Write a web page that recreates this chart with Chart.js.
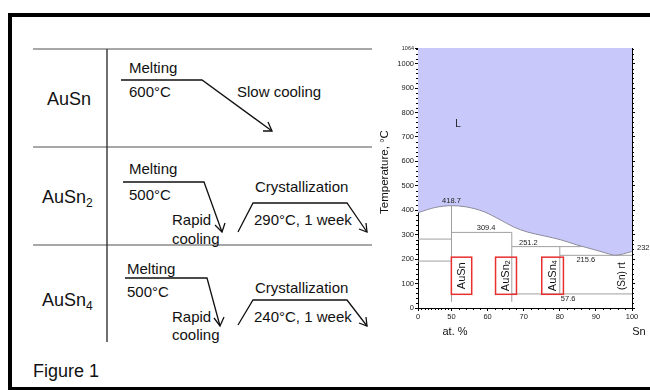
<!DOCTYPE html>
<html>
<head>
<meta charset="utf-8">
<script src="https://cdn.jsdelivr.net/npm/chart.js@4.4.0/dist/chart.umd.min.js"></script>
<style>
  html, body { margin: 0; padding: 0; background: #fff; }
  body { width: 650px; height: 390px; position: relative; overflow: hidden; font-family: "Liberation Sans", Arial, sans-serif; }
  #frame { position: absolute; left: 8px; top: 13px; width: 700px; height: 370px; border-left: 4px solid #000; border-top: 4px solid #000; border-bottom: 3px solid #000; }
  #scheme { position: absolute; left: 0; top: 0; }
  #wrap { position: absolute; left: 370px; top: 38px; width: 280px; height: 312px; }
</style>
</head>
<body>
<div id="frame"></div>

<svg id="scheme" width="650" height="390" font-family="Liberation Sans, Arial, sans-serif">
  <g stroke="#8a8a8a" stroke-width="1.4">
    <line x1="33" y1="49" x2="372" y2="49"/>
    <line x1="33" y1="147" x2="372" y2="147"/>
    <line x1="33" y1="245" x2="372" y2="245"/>
  </g>
  <line x1="107" y1="49" x2="107" y2="342" stroke="#333" stroke-width="1.4"/>

  <g fill="none" stroke="#111" stroke-width="1.3">
    <!-- AuSn -->
    <polyline points="121,80 202,80 272,131"/>
    <polyline points="263,131 272,131 268,122"/>
    <!-- AuSn2 -->
    <polyline points="123,182 204,182 222,232"/>
    <polyline points="215,225 222,232 225,223"/>
    <polyline points="238,232 253,203 347,203 367,232"/>
    <polyline points="359,229 367,232 366,223"/>
    <!-- AuSn4 -->
    <polyline points="125,278 207,278 220,326"/>
    <polyline points="214,318 220,326 224,317"/>
    <polyline points="238,325 253,300 347,300 367,326"/>
    <polyline points="359,323 367,326 366,317"/>
  </g>

  <g fill="#111" font-size="18">
    <text x="47" y="105">AuSn</text>
    <text x="42" y="203">AuSn<tspan font-size="12" dy="4">2</tspan></text>
    <text x="42" y="306">AuSn<tspan font-size="12" dy="4">4</tspan></text>
  </g>
  <g fill="#111" font-size="15">
    <text x="129" y="73">Melting</text>
    <text x="129" y="97">600°C</text>
    <text x="237" y="97">Slow cooling</text>

    <text x="129" y="174">Melting</text>
    <text x="129" y="200">500°C</text>
    <text x="172" y="225">Rapid</text>
    <text x="172" y="244">cooling</text>
    <text x="255" y="192">Crystallization</text>
    <text x="254" y="225">290°C, 1 week</text>

    <text x="127" y="274">Melting</text>
    <text x="127" y="297">500°C</text>
    <text x="172" y="322">Rapid</text>
    <text x="172" y="340">cooling</text>
    <text x="255" y="293">Crystallization</text>
    <text x="254" y="322">240°C, 1 week</text>
  </g>
  <text x="33" y="377" font-size="18" fill="#111">Figure 1</text>
</svg>

<div id="wrap"><canvas id="phase"></canvas></div>

<script>
// Au-Sn phase diagram data (at.% Sn, temperature in °C)
const xTickLabels = [0, 50, 60, 70, 80, 90, 100];
const yTickLabels = [0, 100, 200, 300, 400, 500, 600, 700, 800, 900, 1000, 1064];

const liquidusAt = [0, 25, 50, 54, 59, 63.5, 67.3, 71, 75.7, 80.3, 85, 89.7, 93, 95.3, 100];
const liquidusT  = [390, 411, 418.7, 414, 394, 361, 331, 311, 295, 279, 257, 238, 224, 216, 231];

// horizontal invariant lines: [from at.%, to at.%, T]
const isotherms = [[0, 50, 282], [0, 50, 192], [50, 66.7, 309.4], [66.7, 86, 251.2], [80, 100, 215.6], [66.7, 100, 57.6]];
// vertical phase lines: [at.%, T low, T high]
const phaseLines = [[50, 25, 418.7], [66.7, 25, 309.4], [80, 57.6, 251.2]];

const tempLabels = ['418.7', '309.4', '251.2', '215.6', '57.6'];
const tempLabelAt = [49.9, 59.6, 71.3, 87.2, 82.3];
const tempLabelT = [437, 326, 268, 196, 39];

const compounds = ['AuSn', 'AuSn2', 'AuSn4'];
const compoundFrom = [49.8, 62.2, 75];
const compoundTo = [55.6, 68, 81];
const compoundT = [56, 208];

// the Au-rich side (0-50 at.%) is compressed on the axis
const U50 = 9.28;
function u(p) { return p <= 50 ? p * U50 / 50 : U50 + (p - 50); }

const FONT = '"Liberation Sans", Arial, sans-serif';

const datasets = [{
  data: liquidusAt.map((p, i) => ({ x: u(p), y: liquidusT[i] })),
  borderColor: '#8c8c9c',
  borderWidth: 1,
  backgroundColor: '#c8c8fa',
  fill: 'end',
  pointRadius: 0,
  cubicInterpolationMode: 'monotone'
}];
isotherms.forEach(h => datasets.push({
  data: [{ x: u(h[0]), y: h[2] }, { x: u(h[1]), y: h[2] }],
  borderColor: '#a0a0a0', borderWidth: 1, pointRadius: 0, fill: false
}));
phaseLines.forEach(v => datasets.push({
  data: [{ x: u(v[0]), y: v[1] }, { x: u(v[0]), y: v[2] }],
  borderColor: '#a0a0a0', borderWidth: 1, pointRadius: 0, fill: false
}));

const extras = {
  id: 'extras',
  afterDraw(chart) {
    const { ctx, chartArea: a } = chart;
    const x = chart.scales.x, y = chart.scales.y;
    ctx.save();

    // minor ticks
    ctx.strokeStyle = '#000';
    ctx.lineWidth = 1;
    ctx.beginPath();
    for (let t = 20; t < 1064; t += 20) {
      if (t % 100 === 0) continue;
      const py = Math.round(y.getPixelForValue(t)) + 0.5;
      ctx.moveTo(a.left - 2, py); ctx.lineTo(a.left, py);
      ctx.moveTo(a.right, py); ctx.lineTo(a.right + 2, py);
    }
    const minorX = [];
    for (let p = 5; p < 50; p += 5) minorX.push(p);
    for (let p = 52; p < 100; p += 2) if (p % 10) minorX.push(p);
    minorX.forEach(p => {
      const px = Math.round(x.getPixelForValue(u(p))) + 0.5;
      ctx.moveTo(px, a.bottom); ctx.lineTo(px, a.bottom + 2);
    });
    ctx.stroke();

    // temperature labels
    ctx.fillStyle = '#222';
    ctx.font = '7.5px ' + FONT;
    ctx.textAlign = 'center';
    ctx.textBaseline = 'middle';
    tempLabels.forEach((s, i) => {
      ctx.fillText(s, x.getPixelForValue(u(tempLabelAt[i])), y.getPixelForValue(tempLabelT[i]));
    });
    ctx.textAlign = 'left';
    ctx.fillText('232', a.right + 5, y.getPixelForValue(245));

    ctx.font = '10px ' + FONT;
    ctx.textAlign = 'center';
    ctx.fillText('L', x.getPixelForValue(u(51.8)), y.getPixelForValue(750));

    // compound boxes
    ctx.strokeStyle = '#e8302f';
    ctx.lineWidth = 1.5;
    compounds.forEach((name, i) => {
      const x0 = x.getPixelForValue(u(compoundFrom[i]));
      const x1 = x.getPixelForValue(u(compoundTo[i]));
      const y0 = y.getPixelForValue(compoundT[1]);
      const y1 = y.getPixelForValue(compoundT[0]);
      ctx.strokeRect(x0, y0, x1 - x0, y1 - y0);
      ctx.save();
      ctx.translate((x0 + x1) / 2, (y0 + y1) / 2);
      ctx.rotate(-Math.PI / 2);
      ctx.fillStyle = '#111';
      ctx.textBaseline = 'middle';
      const base = name.slice(0, 4), sub = name.slice(4);
      ctx.font = '11px ' + FONT;
      const wb = ctx.measureText(base).width;
      ctx.font = '7px ' + FONT;
      const ws = ctx.measureText(sub).width;
      ctx.textAlign = 'left';
      ctx.font = '11px ' + FONT;
      ctx.fillText(base, -(wb + ws) / 2, 0);
      ctx.font = '7px ' + FONT;
      ctx.fillText(sub, -(wb + ws) / 2 + wb, 2.5);
      ctx.restore();
    });

    // (Sn) rt
    ctx.save();
    ctx.translate(x.getPixelForValue(u(97.3)), y.getPixelForValue(130));
    ctx.rotate(-Math.PI / 2);
    ctx.fillStyle = '#111';
    ctx.font = '10px ' + FONT;
    ctx.textAlign = 'center';
    ctx.textBaseline = 'middle';
    ctx.fillText('(Sn) rt', 0, 0);
    ctx.restore();

    // axis titles
    ctx.fillStyle = '#111';
    ctx.font = '11.5px ' + FONT;
    ctx.save();
    ctx.translate(a.left - 33, (a.top + a.bottom) / 2 - 6);
    ctx.rotate(-Math.PI / 2);
    ctx.textAlign = 'center';
    ctx.textBaseline = 'middle';
    ctx.fillText('Temperature, °C', 0, 0);
    ctx.restore();
    ctx.font = '11px ' + FONT;
    ctx.textAlign = 'center';
    ctx.textBaseline = 'middle';
    ctx.fillText('at. %', a.left + 37, a.bottom + 24);
    ctx.fillText('Sn', a.right + 7, a.bottom + 24);

    ctx.restore();
  }
};

new Chart(document.getElementById('phase'), {
  type: 'line',
  data: { datasets: datasets },
  options: {
    responsive: true,
    maintainAspectRatio: false,
    animation: false,
    layout: { padding: { top: 10, left: 0, right: 0, bottom: 0 } },
    plugins: { legend: { display: false }, tooltip: { enabled: false } },
    scales: {
      x: {
        type: 'linear',
        min: 0,
        max: u(100),
        afterBuildTicks: s => { s.ticks = xTickLabels.map(p => ({ value: u(p) })); },
        afterFit: s => { s.height = 42; },
        ticks: {
          callback: (v, i) => String(xTickLabels[i]),
          font: { size: 7.5, family: FONT },
          color: '#222',
          padding: 1,
          maxRotation: 0,
          autoSkip: false
        },
        grid: { drawOnChartArea: false, tickLength: 3, color: '#000' },
        border: { color: '#000', width: 1 }
      },
      y: {
        min: 0,
        max: 1064,
        afterBuildTicks: s => { s.ticks = yTickLabels.map(v => ({ value: v })); },
        afterFit: s => { s.width = 48; },
        ticks: {
          callback: (v, i) => String(yTickLabels[i]),
          font: ctx => ({ size: ctx.index === yTickLabels.length - 1 ? 5.5 : 7.5, family: FONT }),
          color: '#222',
          padding: 1,
          autoSkip: false
        },
        grid: { drawOnChartArea: false, tickLength: 3, color: '#000' },
        border: { color: '#000', width: 1 }
      },
      y2: {
        position: 'right',
        min: 0,
        max: 1064,
        afterBuildTicks: s => { s.ticks = yTickLabels.slice(0, -1).map(v => ({ value: v })); },
        afterFit: s => { s.width = 18; },
        ticks: { display: false },
        grid: { drawOnChartArea: false, tickLength: 3, color: '#000' },
        border: { color: '#000', width: 1 }
      }
    }
  },
  plugins: [extras]
});
</script>
</body>
</html>
